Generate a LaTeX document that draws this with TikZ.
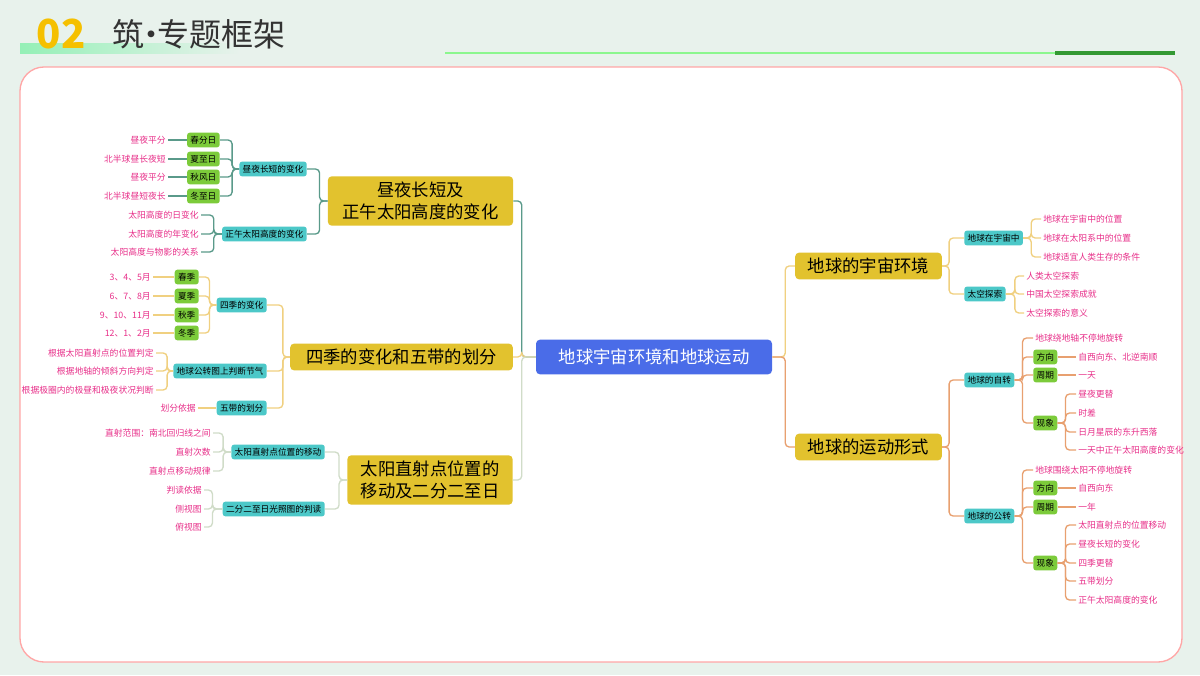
\documentclass[tikz,border=0pt]{standalone}
\usepackage{fontspec}
\setmainfont{Noto Sans CJK SC}
\usetikzlibrary{positioning}
\definecolor{bg}{HTML}{E8F2EC}
\definecolor{pinkt}{HTML}{E8308A}
\definecolor{teal}{HTML}{4CC8C8}
\definecolor{grn}{HTML}{7CCB3A}
\definecolor{yel}{HTML}{E2C22E}
\definecolor{blu}{HTML}{4A6CE8}
\definecolor{lA}{HTML}{5A9A8A}
\definecolor{lB}{HTML}{F0D080}
\definecolor{lC}{HTML}{D0DCC8}
\definecolor{lD}{HTML}{E8A070}
\definecolor{gold}{HTML}{F5C000}
\tikzset{
 leaf/.style={text=pinkt,font=\fontsize{6.6}{7}\selectfont,inner sep=1.5pt},
 tbox/.style={fill=teal,rounded corners=2pt,font=\fontsize{6.5}{7}\selectfont,inner sep=2.5pt,minimum height=11pt},
 gbox/.style={fill=grn,rounded corners=2pt,font=\fontsize{6.5}{7}\selectfont,inner sep=2.5pt,minimum height=11pt},
 ybox/.style={fill=yel,rounded corners=3pt,font=\fontsize{13}{17}\selectfont,align=center,inner sep=4pt},
 conn/.style={line width=1pt,rounded corners=3pt},
}
\newcommand\connL[4]{\draw[conn,#1] (#2.west) -- ++(-#4,0) |- (#3.east);}
\newcommand\connR[4]{\draw[conn,#1] (#2.east) -- ++(#4,0) |- (#3.west);}
\begin{document}
\begin{tikzpicture}[x=0.75pt,y=-0.75pt]
\useasboundingbox (0,0) rectangle (1200,675);
\fill[bg] (0,0) rectangle (1200,675);
% header
\shade[left color=green!45!teal!50,right color=bg] (20,43) rectangle (240,53);
\node[anchor=west,text=gold,font=\fontsize{30}{32}\bfseries\selectfont] (n02) at (32,34) {02};
\node[anchor=west,text=black!80,font=\fontsize{24}{28}\selectfont] (ttl) at (108,34) {筑\kern-0.3em·\kern-0.3em专题框架};
\draw[line width=1.5pt,green!40!bg] (445,53) -- (1175,53);
\draw[line width=3pt,green!50!black!80] (1055,53) -- (1175,53);
\draw[fill=white,draw=red!35,line width=1pt,rounded corners=18pt] (20,67) rectangle (1182,662);
% center
\node[fill=blu,text=white,rounded corners=3pt,font=\fontsize{13}{16}\selectfont,minimum width=177pt,minimum height=26pt] (c) at (654,357) {地球宇宙环境和地球运动};
% left mains
\node[ybox,minimum width=139pt] (A) at (420.5,201) {昼夜长短及\\正午太阳高度的变化};
\node[ybox,minimum width=167pt] (B) at (401.5,357) {四季的变化和五带的划分};
\node[ybox,minimum width=124pt] (C) at (430,480) {太阳直射点位置的\\移动及二分二至日};
\connL{lA}{c}{A}{14}
\connL{lB}{c}{B}{14}
\connL{lC}{c}{C}{14}
% right mains
\node[ybox,minimum width=110pt] (R1) at (868.5,266) {地球的宇宙环境};
\node[ybox,minimum width=110pt] (R2) at (868.5,447) {地球的运动形式};
\connR{lB}{c}{R1}{13}
\connR{lD}{c}{R2}{13}
% group A
\node[tbox,anchor=east] (a1) at (307,169) {昼夜长短的变化};
\node[tbox,anchor=east] (a2) at (307,234) {正午太阳高度的变化};
\connL{lA}{A}{a1}{8}\connL{lA}{A}{a2}{8}
\foreach \n/\t/\l/\y in {s1/春分日/昼夜平分/140,s2/夏至日/北半球昼长夜短/159,s3/秋风日/昼夜平分/177,s4/冬至日/北半球昼短夜长/196}{
 \node[gbox,anchor=east] (\n) at (220,\y) {\t};
 \node[leaf,anchor=east] (\n l) at (168,\y) {\l};
 \connL{lA}{a1}{\n}{7}
 \draw[conn,lA] (\n.west) -- (\n l.east);}
\foreach \n/\l/\y in {h1/太阳高度的日变化/215,h2/太阳高度的年变化/234,h3/太阳高度与物影的关系/252}{
 \node[leaf,anchor=east] (\n) at (201,\y) {\l};
 \connL{lA}{a2}{\n}{8}}
% group B
\node[tbox,anchor=east] (b1) at (267,305) {四季的变化};
\node[tbox,anchor=east] (b2) at (267,371) {地球公转图上判断节气};
\node[tbox,anchor=east] (b3) at (267,408) {五带的划分};
\connL{lB}{B}{b1}{7}\connL{lB}{B}{b2}{7}\connL{lB}{B}{b3}{7}
\foreach \n/\t/\l/\y in {q1/春季/3、4、5月/277,q2/夏季/6、7、8月/296,q3/秋季/9、10、11月/315,q4/冬季/12、1、2月/333}{
 \node[gbox,anchor=east] (\n) at (199,\y) {\t};
 \node[leaf,anchor=east] (\n l) at (153,\y) {\l};
 \connL{lB}{b1}{\n}{7}
 \draw[conn,lB] (\n.west) -- (\n l.east);}
\foreach \n/\l/\y in {j1/根据太阳直射点的位置判定/353,j2/根据地轴的倾斜方向判定/371,j3/根据极圈内的极昼和极夜状况判断/390}{
 \node[leaf,anchor=east] (\n) at (156,\y) {\l};
 \connL{lB}{b2}{\n}{6}}
\node[leaf,anchor=east] (w1) at (198,408) {划分依据};
\draw[conn,lB] (b3.west) -- (w1.east);
% group C
\node[tbox,anchor=east] (c1) at (325,452) {太阳直射点位置的移动};
\node[tbox,anchor=east] (c2) at (325,509) {二分二至日光照图的判读};
\connL{lC}{C}{c1}{8}\connL{lC}{C}{c2}{8}
\foreach \n/\l/\y in {d1/直射范围：南北回归线之间/433,d2/直射次数/452,d3/直射点移动规律/471}{
 \node[leaf,anchor=east] (\n) at (213,\y) {\l};
 \connL{lC}{c1}{\n}{8}}
\foreach \n/\l/\y in {e1/判读依据/490,e2/侧视图/509,e3/俯视图/527}{
 \node[leaf,anchor=east] (\n) at (204,\y) {\l};
 \connL{lC}{c2}{\n}{10}}
% right upper
\node[tbox,anchor=west] (r1) at (964,238) {地球在宇宙中};
\node[tbox,anchor=west] (r2) at (964,294) {太空探索};
\connR{lB}{R1}{r1}{7}\connR{lB}{R1}{r2}{7}
\foreach \n/\l/\y in {f1/地球在宇宙中的位置/219,f2/地球在太阳系中的位置/238,f3/地球适宜人类生存的条件/257}{
 \node[leaf,anchor=west] (\n) at (1041,\y) {\l};
 \connR{lB}{r1}{\n}{8}}
\foreach \n/\l/\y in {g1/人类太空探索/276,g2/中国太空探索成就/294,g3/太空探索的意义/313}{
 \node[leaf,anchor=west] (\n) at (1024,\y) {\l};
 \connR{lB}{r2}{\n}{9}}
% right lower
\node[tbox,anchor=west] (z) at (964,380) {地球的自转};
\node[tbox,anchor=west] (p) at (964,516) {地球的公转};
\connR{lD}{R2}{z}{7}\connR{lD}{R2}{p}{7}
% rotation
\node[leaf,anchor=west] (z0) at (1033,338) {地球绕地轴不停地旋转};
\node[gbox,anchor=west] (z1) at (1033,357) {方向};
\node[gbox,anchor=west] (z2) at (1033,375) {周期};
\node[gbox,anchor=west] (z3) at (1033,423) {现象};
\foreach \n in {z0,z1,z2,z3}{\connR{lD}{z}{\n}{8}}
\node[leaf,anchor=west] (z1l) at (1076,357) {自西向东、北逆南顺};
\node[leaf,anchor=west] (z2l) at (1076,375) {一天};
\draw[conn,lD] (z1.east) -- (z1l.west);
\draw[conn,lD] (z2.east) -- (z2l.west);
\foreach \n/\l/\y in {x1/昼夜更替/394,x2/时差/413,x3/日月星辰的东升西落/432,x4/一天中正午太阳高度的变化/450}{
 \node[leaf,anchor=west] (\n) at (1076,\y) {\l};
 \connR{lD}{z3}{\n}{8}}
% revolution
\node[leaf,anchor=west] (p0) at (1033,470) {地球围绕太阳不停地旋转};
\node[gbox,anchor=west] (p1) at (1033,488) {方向};
\node[gbox,anchor=west] (p2) at (1033,507) {周期};
\node[gbox,anchor=west] (p3) at (1033,563) {现象};
\foreach \n in {p0,p1,p2,p3}{\connR{lD}{p}{\n}{8}}
\node[leaf,anchor=west] (p1l) at (1076,488) {自西向东};
\node[leaf,anchor=west] (p2l) at (1076,507) {一年};
\draw[conn,lD] (p1.east) -- (p1l.west);
\draw[conn,lD] (p2.east) -- (p2l.west);
\foreach \n/\l/\y in {y1/太阳直射点的位置移动/525,y2/昼夜长短的变化/544,y3/四季更替/563,y4/五带划分/581,y5/正午太阳高度的变化/600}{
 \node[leaf,anchor=west] (\n) at (1076,\y) {\l};
 \connR{lD}{p3}{\n}{8}}
\end{tikzpicture}
\end{document}
